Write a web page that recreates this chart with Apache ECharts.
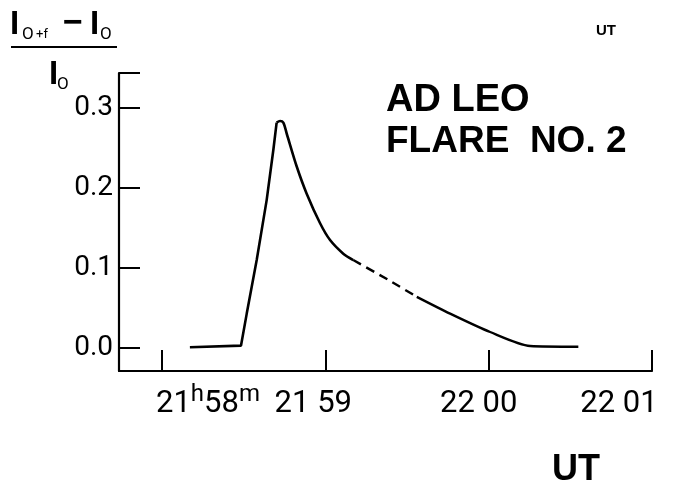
<!DOCTYPE html>
<html>
<head>
<meta charset="utf-8">
<script src="https://cdn.jsdelivr.net/npm/echarts@6/dist/echarts.min.js"></script>
<style>
html,body{margin:0;padding:0;background:#fff;}
#c{width:685px;height:489px;}
</style>
</head>
<body>
<div id="c"></div>
<script>
// time in minutes after 21h58m UT, value = (I_o+f - I_o)/I_o
const riseTime = [0.171, 0.484, 0.519, 0.580, 0.641, 0.682, 0.702];
const riseValue = [0.001, 0.003, 0.043, 0.110, 0.185, 0.248, 0.282];
const decayTime = [0.702, 0.723, 0.743, 0.764, 0.825, 0.886, 0.968, 1.029, 1.110, 1.171];
const decayValue = [0.282, 0.284, 0.282, 0.268, 0.227, 0.193, 0.156, 0.135, 0.118, 0.110];
const gapTime = [1.171, 1.396, 1.560];
const gapValue = [0.110, 0.084, 0.064];
const tailTime = [1.560, 1.764, 2.009, 2.254, 2.549];
const tailValue = [0.064, 0.043, 0.020, 0.0025, 0.0016];

const xTickValues = [0, 1, 2, 3];
const xTickLabels = ['21h58m', '21 59', '22 00', '22 01'];
const yTickValues = [0, 0.1, 0.2, 0.3];
const xMin = -0.263, xMax = 3;
const yMin = -0.0288, yMax = 0.344;

const pairs = (t, v) => t.map((x, i) => [x, v[i]]);
const FONT = "Roboto, 'DejaVu Sans Condensed', sans-serif";
const BOLD = "'Liberation Sans','Arial',sans-serif";

const chart = echarts.init(document.getElementById('c'), null, {renderer: 'canvas'});

chart.setOption({
  animation: false,
  backgroundColor: '#fff',
  grid: {left: 119, right: 33, top: 73, bottom: 118, containLabel: false, outerBoundsMode: 'none'},
  xAxis: {
    type: 'value', min: xMin, max: xMax, position: 'bottom',
    splitLine: {show: false},
    axisLine: {show: true, onZero: false, lineStyle: {color: '#000', width: 2.2}},
    axisTick: {show: true, inside: true, length: 21, customValues: xTickValues, lineStyle: {color: '#000', width: 2}},
    axisLabel: {
      show: true, margin: 12, customValues: xTickValues, color: '#000',
      fontFamily: FONT, fontSize: 31, hideOverlap: false,
      formatter: function (v) {
        const i = xTickValues.indexOf(Math.round(v));
        if (i < 0) return '';
        const s = xTickLabels[i];
        const m = s.match(/^(\d+)h(\d+)m$/);
        const body = m ? '{n|' + m[1] + '}{sup|h}{n|' + m[2] + '}{sup|m}' : '{n|' + s + '}';
        return i === 0 ? '{gw0|}' + body : body + '{gw' + i + '|}';
      },
      rich: {
        n: {fontFamily: FONT, fontSize: 31, color: '#000', verticalAlign: 'bottom', lineHeight: 37},
        sup: {fontFamily: FONT, fontSize: 24, color: '#000', verticalAlign: 'top', lineHeight: 37, padding: [0, 0, 14, 0]},
        gw0: {width: 92}, gw1: {width: 24}, gw2: {width: 20}, gw3: {width: 66}
      }
    },
    name: 'UT', nameLocation: 'end', nameGap: 0,
    nameTextStyle: {fontFamily: BOLD, fontWeight: 'bold', fontSize: 36, color: '#000', align: 'right', verticalAlign: 'top', padding: [81, 52, 0, 0]}
  },
  yAxis: {
    type: 'value', min: yMin, max: yMax,
    splitLine: {show: false},
    axisLine: {show: true, onZero: false, lineStyle: {color: '#000', width: 2.2}},
    axisTick: {show: true, inside: true, length: 21, customValues: yTickValues.concat([yMax]), lineStyle: {color: '#000', width: 2}},
    axisLabel: {
      show: true, margin: 6, customValues: yTickValues, color: '#000',
      fontFamily: FONT, fontSize: 28,
      formatter: v => v.toFixed(1)
    }
  },
  series: [
    {type: 'line', data: pairs(riseTime, riseValue), smooth: false, symbol: 'none',
     lineStyle: {color: '#000', width: 2.6}},
    {type: 'line', data: pairs(decayTime, decayValue), smooth: 0.3, symbol: 'none',
     lineStyle: {color: '#000', width: 2.6}},
    {type: 'line', data: pairs(gapTime, gapValue), smooth: 0.2, symbol: 'none',
     lineStyle: {color: '#000', width: 2.4, type: [9, 6]}},
    {type: 'line', data: pairs(tailTime, tailValue), smooth: 0.25, symbol: 'none',
     lineStyle: {color: '#000', width: 2.4}}
  ],
  graphic: [
    // y-axis quantity: (I_o+f - I_o) / I_o
    {type: 'text', left: 10, top: 8, style: {text: 'I', font: 'bold 33px ' + BOLD, fill: '#000'}},
    {type: 'text', left: 22, top: 26, style: {text: 'O', font: '17px ' + FONT, fill: '#000'}},
    {type: 'text', left: 36, top: 28, style: {text: '+f', font: '13px ' + FONT, fill: '#000'}},
    {type: 'text', left: 63, top: 7, style: {text: '−', font: 'bold 34px ' + BOLD, fill: '#000'}},
    {type: 'text', left: 90, top: 8, style: {text: 'I', font: 'bold 33px ' + BOLD, fill: '#000'}},
    {type: 'text', left: 100, top: 26, style: {text: 'O', font: '17px ' + FONT, fill: '#000'}},
    {type: 'line', shape: {x1: 11, y1: 47, x2: 117, y2: 47}, style: {stroke: '#000', lineWidth: 2.2}},
    {type: 'text', left: 49, top: 58, style: {text: 'I', font: 'bold 33px ' + BOLD, fill: '#000'}},
    {type: 'text', left: 57, top: 76, style: {text: 'O', font: '17px ' + FONT, fill: '#000'}},
    // annotations
    {type: 'text', left: 386, top: 82, style: {text: 'AD LEO', font: 'bold 38px ' + BOLD, fill: '#000'}},
    {type: 'text', left: 386, top: 123, style: {text: 'FLARE  NO. 2', font: 'bold 37px ' + BOLD, fill: '#000'}},
    {type: 'text', left: 596, top: 23, style: {text: 'UT', font: 'bold 15px ' + BOLD, fill: '#000'}}
  ]
});
</script>
</body>
</html>
